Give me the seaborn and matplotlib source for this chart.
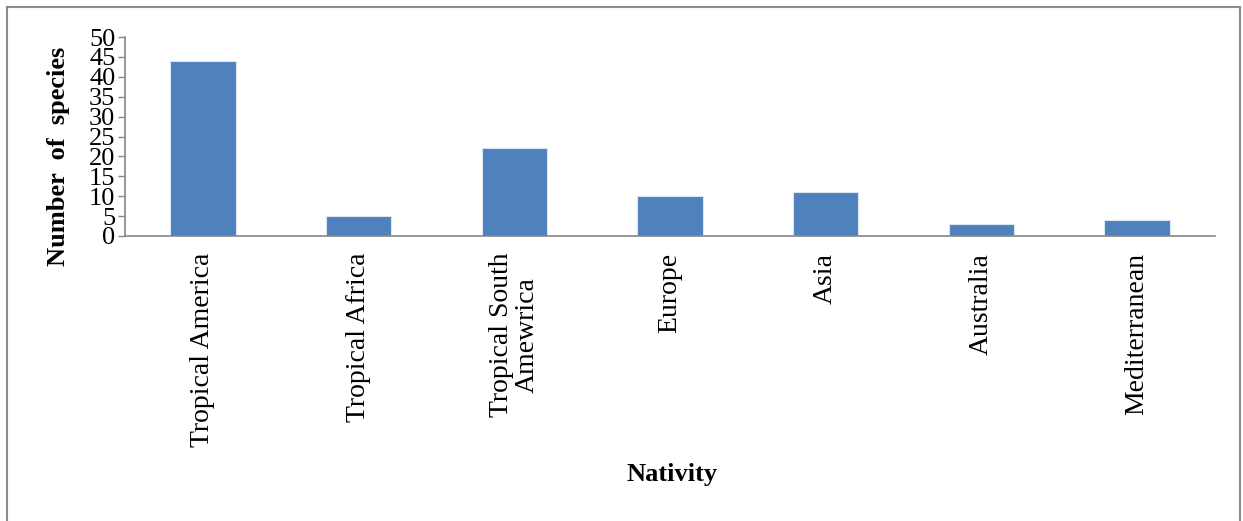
import matplotlib
matplotlib.use("Agg")
import matplotlib.pyplot as plt
import matplotlib.patches as mpatches
import seaborn as sns
import pandas as pd

categories = ["Tropical America", "Tropical Africa", "Tropical South\nAmewrica",
              "Europe", "Asia", "Australia", "Mediterranean"]
species = [44, 5, 22, 10, 11, 3, 4]
yticks = [0, 5, 10, 15, 20, 25, 30, 35, 40, 45, 50]

sns.set_theme(style="white")
plt.rcParams['font.family'] = ['Liberation Serif', 'DejaVu Serif']
plt.rcParams['text.color'] = 'black'
plt.rcParams['axes.labelcolor'] = 'black'
plt.rcParams['xtick.labelcolor'] = 'black'
plt.rcParams['ytick.labelcolor'] = 'black'

df = pd.DataFrame({"Nativity": categories, "Number of species": species})

fig = plt.figure(figsize=(12.43, 5.21), dpi=100)
ax = fig.add_axes([125/1243, 1-236/521, 1090/1243, 199/521])

sns.barplot(data=df, x="Nativity", y="Number of species", ax=ax,
            color="#4F81BD", saturation=1, width=0.42,
            edgecolor="#dce6f2", linewidth=0.8)

ax.set_xlim(-0.5, 6.5)
ax.set_ylim(0, 50)
ax.set_yticks(yticks)
ax.set_yticklabels([str(v) for v in yticks], fontsize=19)
ax.tick_params(axis='y', which='both', left=True, length=5, width=1,
               color="#868686", pad=2, labelcolor="black")
ax.tick_params(axis='x', bottom=False, pad=6, labelcolor="black")
for lbl in ax.get_xticklabels():
    lbl.set_rotation(90)
    lbl.set_fontsize(20)
    lbl.set_ha('center')
    lbl.set_va('top')
    lbl.set_multialignment('center')
    lbl.set_linespacing(1.0)

for side in ['top', 'right']:
    ax.spines[side].set_visible(False)
for side in ['left', 'bottom']:
    ax.spines[side].set_color("#868686")
    ax.spines[side].set_linewidth(1.2)

ax.set_ylabel("Number  of  species", fontsize=19, fontweight='bold', color='black')
ax.yaxis.set_label_coords(-0.0505, 0.40)
ax.set_xlabel("Nativity", fontsize=19, fontweight='bold', color='black')
ax.xaxis.set_label_coords(0.502, -1.14)

border = mpatches.Rectangle((7/1243, -0.02), (1240-7)/1243, 1-7/521+0.02,
                            transform=fig.transFigure, fill=False,
                            edgecolor="#8a8a8a", linewidth=1.5)
fig.patches.append(border)

fig.savefig("out.png", dpi=100, facecolor="white")
